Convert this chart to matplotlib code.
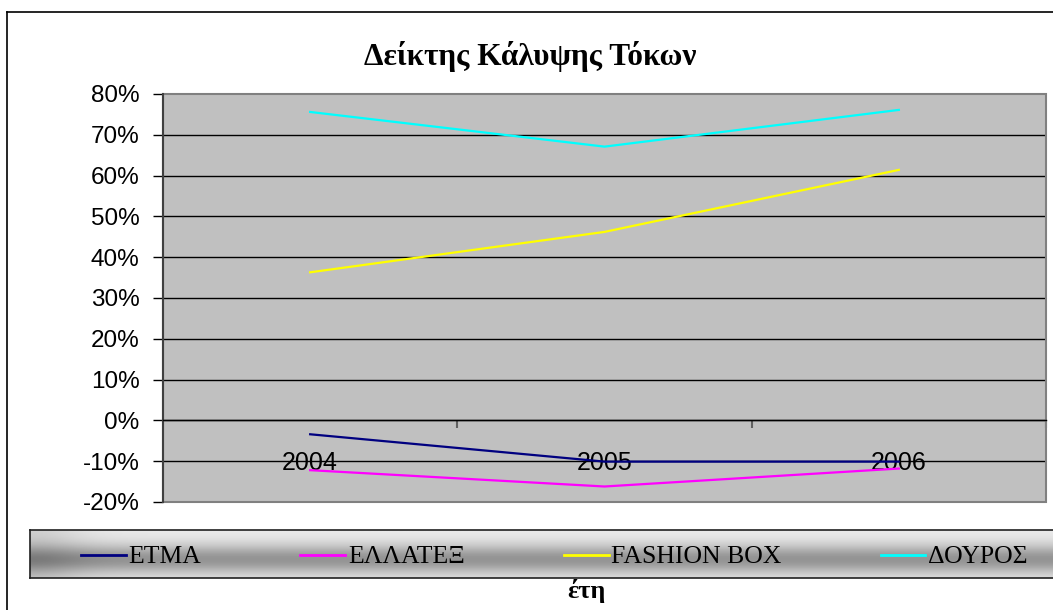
import matplotlib
matplotlib.use("Agg")
import matplotlib.pyplot as plt
import numpy as np
from matplotlib.lines import Line2D
from matplotlib.patches import Rectangle
from matplotlib.ticker import FuncFormatter

years = ["2004", "2005", "2006"]
etma = [-0.034, -0.101, -0.101]
ellatex = [-0.122, -0.162, -0.118]
fashion_box = [0.363, 0.462, 0.614]
douros = [0.756, 0.671, 0.761]
series_names = ["ΕΤΜΑ", "ΕΛΛΑΤΕΞ", "FASHION BOX", "ΔΟΥΡΟΣ"]
series_colors = ["#000080", "#ff00ff", "#ffff00", "#00ffff"]

W, H = 1053, 610
fig = plt.figure(figsize=(W / 100, H / 100), dpi=100)

# outer chart border (left + top visible)
fig.add_artist(Line2D([7 / W, 7 / W], [0, 1 - 12 / H], color="black", lw=1.2))
fig.add_artist(Line2D([7 / W, 1], [1 - 12 / H, 1 - 12 / H], color="black", lw=1.2))

ax = fig.add_axes([163 / W, 1 - 502 / H, (1046 - 163) / W, (502 - 94) / H])
ax.set_facecolor("#c0c0c0")

x = np.arange(len(years))
for vals, name, col in zip([etma, ellatex, fashion_box, douros], series_names, series_colors):
    ax.plot(x, vals, color=col, lw=1.6, label=name, zorder=3)

ax.set_xlim(-0.5, len(years) - 0.5)
ax.set_ylim(-0.2, 0.8)
ax.set_yticks(np.arange(-0.2, 0.81, 0.1))
ax.yaxis.set_major_formatter(FuncFormatter(lambda v, p: "%d%%" % round(v * 100)))
ax.yaxis.grid(True, color="black", lw=1.0)
ax.set_axisbelow(True)
gl = ax.get_ygridlines()
gl[0].set_visible(False)
gl[-1].set_visible(False)

ax.add_patch(Rectangle((0, 0), 1, 1, transform=ax.transAxes, fill=False,
                       edgecolor="#808080", lw=1.5, clip_on=False, zorder=2.4))
for s in ["top", "right"]:
    ax.spines[s].set_visible(False)
ax.spines["left"].set_color("#404040")
ax.spines["left"].set_linewidth(1.5)
ax.spines["bottom"].set_position(("data", 0))
ax.spines["bottom"].set_color("black")
ax.spines["bottom"].set_linewidth(1.0)

ax.set_xticks(x)
ax.set_xticklabels(years, fontfamily="Liberation Sans", fontsize=18)
ax.set_xticks(list(x + 0.5), minor=True)
ax.tick_params(axis="x", which="major", length=0, pad=22)
ax.tick_params(axis="x", which="minor", length=6, width=1.5, color="#606060", direction="out")
ax.tick_params(axis="y", length=7, width=1, color="black", pad=10)
for lab in ax.get_yticklabels():
    lab.set_fontfamily("Liberation Sans")
    lab.set_fontsize(17.5)

fig.text(530 / W, 1 - 57 / H, "Δείκτης Κάλυψης Τόκων", ha="center", va="center",
         fontfamily="Liberation Serif", fontweight="bold", fontsize=22.5)
fig.text(586 / W, 1 - 591 / H, "έτη", ha="center", va="center",
         fontfamily="Liberation Serif", fontweight="bold", fontsize=19)

# legend box with grey gradient
lax = fig.add_axes([30 / W, 1 - 578 / H, 1 - 30 / W + 0.01, 48 / H])
yy = np.linspace(0, 1, 60)[:, None]
xx = np.linspace(0, 1, 400)[None, :]
shade = 0.92 - 0.34 * np.exp(-((yy - 0.62) / 0.3) ** 2) - 0.1 * np.exp(-(xx / 0.05) ** 2)
lax.imshow(shade, cmap="gray", vmin=0, vmax=1, aspect="auto", extent=(0, 1, 0, 1))
lax.set_xticks([])
lax.set_yticks([])
for s in lax.spines.values():
    s.set_color("#202020")
    s.set_linewidth(1.2)

handles, labels = ax.get_legend_handles_labels()
leg = fig.legend(handles, labels, loc="center left", bbox_to_anchor=(58 / W, 1 - 557 / H),
                 ncol=4, frameon=False, handlelength=1.75, handletextpad=0.1,
                 columnspacing=3.85, prop={"family": "Liberation Serif", "size": 18.5})
for h in leg.legend_handles:
    h.set_linewidth(2)

fig.savefig("out.png", dpi=100)
